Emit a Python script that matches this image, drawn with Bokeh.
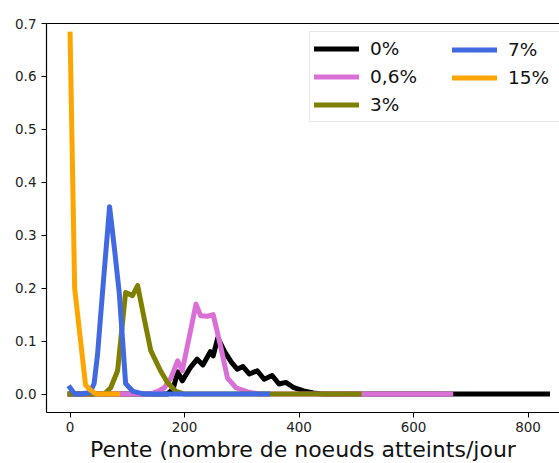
from bokeh.plotting import figure
from bokeh.models import Range1d, LinearAxis, FixedTicker, Legend, LegendItem, NumeralTickFormatter
from bokeh.embed import file_html
from bokeh.resources import INLINE

# ---- data ----
x_0 = [0, 170, 180, 188, 196, 210, 222, 232, 245, 250, 258, 270, 282, 292, 302, 313, 327, 339, 353, 365, 377, 391, 408, 425, 440, 834]
y_0 = [0, 0, 0.01, 0.042, 0.025, 0.05, 0.066, 0.055, 0.08, 0.072, 0.106, 0.08, 0.06, 0.047, 0.052, 0.038, 0.044, 0.028, 0.035, 0.019, 0.022, 0.012, 0.006, 0.002, 0, 0]

x_06 = [0, 140, 153, 165, 176, 188, 196, 220, 228, 240, 250, 263, 275, 290, 310, 330, 665]
y_06 = [0, 0, 0.005, 0.012, 0.03, 0.063, 0.044, 0.17, 0.148, 0.147, 0.15, 0.09, 0.03, 0.012, 0.004, 0, 0]

x_3 = [0, 60, 71, 83, 97, 109, 118, 130, 141, 158, 170, 185, 200, 505]
y_3 = [0, 0, 0.012, 0.044, 0.192, 0.186, 0.205, 0.14, 0.082, 0.044, 0.022, 0.005, 0, 0]

x_7 = [0, 8, 20, 35, 42, 48, 58, 69, 78, 86, 97, 110, 130, 345]
y_7 = [0.012, 0, 0, 0.003, 0.02, 0.075, 0.21, 0.354, 0.27, 0.19, 0.02, 0.005, 0, 0]

x_15 = [0, 8, 27, 35, 45, 83]
y_15 = [0.68, 0.2, 0.017, 0.008, 0, 0]

labels = ["0%", "0,6%", "3%", "7%", "15%"]
colors = ["black", "orchid", "olive", "royalblue", "orange"]
series = [(x_0, y_0), (x_06, y_06), (x_3, y_3), (x_7, y_7), (x_15, y_15)]

x_ticks = [0, 200, 400, 600, 800]
y_ticks = [0.0, 0.1, 0.2, 0.3, 0.4, 0.5, 0.6, 0.7]
x_label = "Pente (nombre de noeuds atteints/jour"

FONT = "DejaVu Sans"

p = figure(frame_width=513, frame_height=389,
           x_range=Range1d(-41.2, 855), y_range=Range1d(-0.0348, 0.7),
           output_backend="svg", toolbar_location=None,
           min_border_left=46, min_border_right=0, min_border_top=23, min_border_bottom=51)
p.outline_line_color = None
p.xgrid.visible = False
p.ygrid.visible = False
p.background_fill_color = "white"
p.border_fill_color = "white"

for ax in (p.xaxis[0], p.yaxis[0]):
    ax.axis_line_color = "black"
    ax.axis_line_width = 1.2
    ax.major_tick_line_color = "black"
    ax.major_tick_in = 0
    ax.major_tick_out = 5
    ax.minor_tick_line_color = None
    ax.major_label_text_font = FONT
    ax.major_label_text_font_size = "13.5px"
    ax.major_label_text_color = "#222222"
    ax.major_label_standoff = 4

p.xaxis[0].ticker = FixedTicker(ticks=x_ticks)
p.yaxis[0].ticker = FixedTicker(ticks=y_ticks)
p.yaxis[0].formatter = NumeralTickFormatter(format="0.0")
p.yaxis[0].major_label_standoff = 5
p.xaxis[0].axis_label = x_label
p.xaxis[0].axis_label_text_font = FONT
p.xaxis[0].axis_label_text_font_size = "22px"
p.xaxis[0].axis_label_text_font_style = "normal"
p.xaxis[0].axis_label_text_color = "#111111"
p.xaxis[0].axis_label_standoff = 2

top = LinearAxis(ticker=FixedTicker(ticks=[]))
top.axis_line_color = "black"
top.axis_line_width = 1.2
top.major_tick_line_color = None
top.minor_tick_line_color = None
top.major_label_text_font_size = "0px"
p.add_layout(top, "above")

items = []
for (xs, ys), lab, col in zip(series, labels, colors):
    r = p.line(xs, ys, line_color=col, line_width=5, line_join="round", line_cap="square")
    items.append(LegendItem(label=lab, renderers=[r]))

common = dict(label_text_font=FONT, label_text_font_size="18.5px", label_text_color="#111111",
              glyph_width=45, glyph_height=25, label_height=25, label_standoff=11,
              spacing=3, padding=4)

# first column carries the frame of the whole legend box
leg1 = Legend(items=items[:3], location=(263, 290), label_width=185,
              border_line_color="#d0d0d0", border_line_width=1,
              background_fill_color="white", background_fill_alpha=0.85, **common)
# second column, drawn on top of the first, with an invisible frame
leg2 = Legend(items=items[3:], location=(402, 318),
              border_line_color="white", border_line_alpha=0, border_line_width=1,
              background_fill_color="white", background_fill_alpha=0, **common)
p.add_layout(leg1, "center")
p.add_layout(leg2, "center")

open("out.html", "w").write(file_html(p, INLINE))
